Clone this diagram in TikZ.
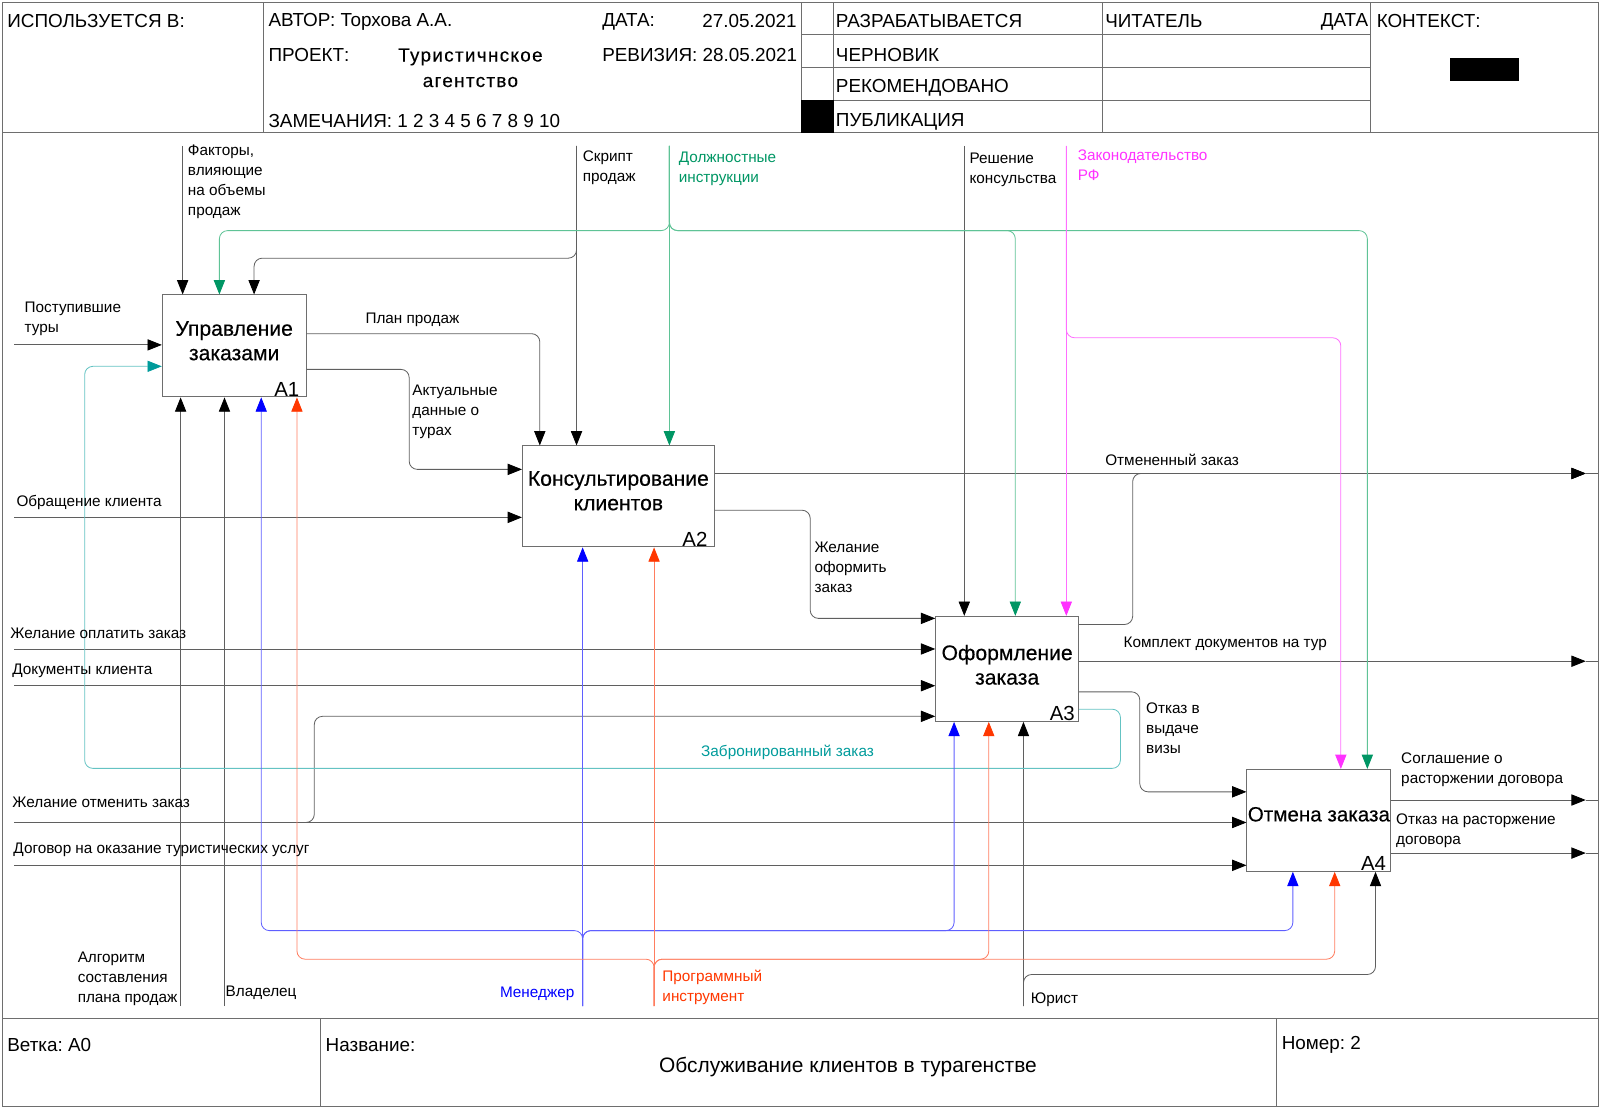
\documentclass[tikz,border=0pt]{standalone}
\usepackage{fontspec}
\setmainfont{Liberation Sans}
\newfontfamily\ttlfont[FakeBold=0.4]{Liberation Sans}
\newfontfamily\prjfont[FakeBold=0.3,LetterSpace=7]{Liberation Sans}
\usetikzlibrary{arrows.meta}
\frenchspacing
\definecolor{frm}{RGB}{110,110,110}
\definecolor{lnk}{RGB}{95,95,95}
\definecolor{grnl}{RGB}{95,195,150}
\definecolor{grnh}{RGB}{0,150,100}
\definecolor{tell}{RGB}{100,195,195}
\definecolor{telh}{RGB}{0,155,155}
\definecolor{blul}{RGB}{95,95,255}
\definecolor{bluh}{RGB}{0,0,255}
\definecolor{redl}{RGB}{255,125,95}
\definecolor{redh}{RGB}{255,55,0}
\definecolor{magl}{RGB}{255,110,255}
\definecolor{magh}{RGB}{255,50,255}
\begin{document}
\begin{tikzpicture}[x=1pt,y=-1pt,
  frame/.style={draw=frm, line width=0.9pt},
  hdr/.style={font=\fontsize{18.5}{21}\selectfont, inner sep=0, anchor=west},
  lbl/.style={font=\fontsize{15}{19.5}\selectfont, inner sep=0, anchor=west, align=left},
  lblm/.style={lbl, anchor=north west},
  box/.style={draw=frm, line width=0.9pt, inner sep=0, fill=white},
  ttl/.style={font=\ttlfont\fontsize{20.7}{24}\selectfont, align=center, inner sep=0},
  num/.style={font=\fontsize{20}{22}\selectfont, inner sep=0, anchor=south east},
  conn/.style 2 args={draw=#1, line width=0.8pt, rounded corners=8pt, -{Triangle[length=14pt,width=11pt,color=#2]}},
  plain/.style={draw=#1, line width=0.8pt, rounded corners=8pt}
]
\useasboundingbox (0,0) rectangle (1568,1086);
% ---------- frame ----------
\draw[frame] (2,2) rectangle (1566,1084);
\draw[frame] (2,130) -- (1566,130);
\draw[frame] (258,2) -- (258,130);
\draw[frame] (785,2) -- (785,130);
\draw[frame] (817,2) -- (817,130);
\draw[frame] (1080,2) -- (1080,130);
\draw[frame] (1343,2) -- (1343,130);
\draw[frame] (785,34) -- (1343,34);
\draw[frame] (785,66) -- (1343,66);
\draw[frame] (785,98) -- (1343,98);
\fill[black] (785,98) rectangle (817,130);
\fill[black] (1421,57) rectangle (1489,79);
\draw[frame] (2,998) -- (1566,998);
\draw[frame] (314,998) -- (314,1084);
\draw[frame] (1251,998) -- (1251,1084);
% ---------- header text ----------
\node[hdr] (h1) at (7,21) {ИСПОЛЬЗУЕТСЯ В:};
\node[hdr] (h2) at (263,21) {АВТОР: Торхова А.А.};
\node[hdr] (h3) at (590,21) {ДАТА:};
\node[hdr, anchor=east] (h4) at (781,21) {27.05.2021};
\node[hdr] (h5) at (263,54) {ПРОЕКТ:};
\node[hdr, anchor=center, align=center, font=\prjfont\fontsize{18.5}{25}\selectfont] (h6) at (461,66.5) {Туристичнское\\агентство};
\node[hdr] (h7) at (590,54) {РЕВИЗИЯ: 28.05.2021};
\node[hdr] (h8) at (263,119) {ЗАМЕЧАНИЯ: 1 2 3 4 5 6 7 8 9 10};
\node[hdr] (h9) at (819,21) {РАЗРАБАТЫВАЕТСЯ};
\node[hdr] (h10) at (819,54) {ЧЕРНОВИК};
\node[hdr] (h11) at (819,86) {РЕКОМЕНДОВАНО};
\node[hdr] (h12) at (819,119) {ПУБЛИКАЦИЯ};
\node[hdr] (h13) at (1083,21) {ЧИТАТЕЛЬ};
\node[hdr, anchor=east] (h14) at (1341,21) {ДАТА};
\node[hdr] (h15) at (1349,21) {КОНТЕКСТ:};
% ---------- footer text ----------
\node[hdr] (f1) at (7,1024) {Ветка: A0};
\node[hdr] (f2) at (319,1024) {Название:};
\node[hdr, anchor=center, font=\fontsize{20.5}{23}\selectfont] (f3) at (831,1046) {Обслуживание клиентов в турагенстве};
\node[hdr] (f4) at (1256,1024) {Номер: 2};
% ---------- boxes ----------
\node[box, minimum width=141, minimum height=100] (A1) at (229.5,339) {};
\node[box, minimum width=188, minimum height=99] (A2) at (606,486.5) {};
\node[box, minimum width=140, minimum height=103] (A3) at (987,655.5) {};
\node[box, minimum width=141, minimum height=100] (A4) at (1292.5,804) {};
\node[ttl] (t1) at (229.5,334) {Управление\\заказами};
\node[ttl] (t2) at (606,481) {Консультирование\\клиентов};
\node[ttl] (t3) at (987,651.5) {Оформление\\заказа};
\node[ttl, font=\ttlfont\fontsize{20.2}{24}\selectfont] (t4) at (1292.5,798) {Отмена заказа};
\node[num] (n1) at ([xshift=-7pt,yshift=1pt]A1.south east) {A1};
\node[num] (n2) at ([xshift=-7pt,yshift=1pt]A2.south east) {A2};
\node[num] (n3) at ([xshift=-4pt,yshift=1pt]A3.south east) {A3};
\node[num] (n4) at ([xshift=-5pt,yshift=1pt]A4.south east) {A4};
% ---------- free ends ----------
\coordinate (cFak) at (179,143);
\coordinate (cSkr) at (565,143);
\coordinate (cDol) at (656,143);
\coordinate (cRes) at (945,143);
\coordinate (cZak) at (1045,143);
\coordinate (cPost) at (14,338);
\coordinate (cObr) at (14,507);
\coordinate (cOpl) at (14,636);
\coordinate (cDok) at (14,672);
\coordinate (cOtm) at (14,806);
\coordinate (cDog) at (14,848);
\coordinate (cAlg) at (177,986);
\coordinate (cVla) at (220,986);
\coordinate (cMen) at (571,986);
\coordinate (cPro) at (641,986);
\coordinate (cYur) at (1003,986);
\coordinate (oOtm) at (1554,464);
\coordinate (oKom) at (1554,648);
\coordinate (oSog) at (1554,784);
\coordinate (oOtk) at (1554,836);
\draw[plain=lnk] (oOtm) -- (1566,464);
\draw[plain=lnk] (oKom) -- (1566,648);
\draw[plain=lnk] (oSog) -- (1566,784);
\draw[plain=lnk] (oOtk) -- (1566,836);
% ---------- black connectors ----------
\draw[conn={lnk}{black}] (cFak) -- (A1.north -| 179,0);
\draw[conn={lnk}{black}] (cSkr) -- (A2.north -| 565,0);
\draw[conn={lnk}{black}] (cSkr) -- (565,253) -- (249,253) -- (A1.north -| 249,0);
\draw[conn={lnk}{black}] (cPost) -- (A1.west |- 0,338);
\draw[conn={lnk}{black}] (A1.east |- 0,327) -- (529,327) -- (A2.north -| 529,0);
\draw[conn={lnk}{black}] (A1.east |- 0,362) -- (401,362) -- (401,460) -- (A2.west |- 0,460);
\draw[conn={lnk}{black}] (cObr) -- (A2.west |- 0,507);
\draw[conn={lnk}{black}] (A2.east |- 0,464) -- (oOtm);
\draw[conn={lnk}{black}] (A3.east |- 0,612) -- (1110,612) -- (1110,464) -- (oOtm);
\draw[conn={lnk}{black}] (A2.east |- 0,500) -- (794,500) -- (794,606) -- (A3.west |- 0,606);
\draw[conn={lnk}{black}] (cRes) -- (A3.north -| 945,0);
\draw[conn={lnk}{black}] (cOpl) -- (A3.west |- 0,636);
\draw[conn={lnk}{black}] (cDok) -- (A3.west |- 0,672);
\draw[conn={lnk}{black}] (cOtm) -- (A4.west |- 0,806);
\draw[conn={lnk}{black}] (cOtm) -- (308,806) -- (308,702) -- (A3.west |- 0,702);
\draw[conn={lnk}{black}] (cDog) -- (A4.west |- 0,848);
\draw[conn={lnk}{black}] (A3.east |- 0,648) -- (oKom);
\draw[conn={lnk}{black}] (A3.east |- 0,678) -- (1117,678) -- (1117,776) -- (A4.west |- 0,776);
\draw[conn={lnk}{black}] (A4.east |- 0,784) -- (oSog);
\draw[conn={lnk}{black}] (A4.east |- 0,836) -- (oOtk);
\draw[conn={lnk}{black}] (cAlg) -- (A1.south -| 177,0);
\draw[conn={lnk}{black}] (cVla) -- (A1.south -| 220,0);
\draw[conn={lnk}{black}] (cYur) -- (A3.south -| 1003,0);
\draw[conn={lnk}{black}] (cYur) -- (1003,955) -- (1348,955) -- (A4.south -| 1348,0);
% ---------- green ----------
\draw[conn={grnl}{grnh}] (cDol) -- (A2.north -| 656,0);
\draw[conn={grnl}{grnh}] (cDol) -- (656,226) -- (215,226) -- (A1.north -| 215,0);
\draw[conn={grnl}{grnh}] (cDol) -- (656,226) -- (995,226) -- (A3.north -| 995,0);
\draw[conn={grnl}{grnh}] (cDol) -- (656,226) -- (1340,226) -- (A4.north -| 1340,0);
% ---------- magenta ----------
\draw[conn={magl}{magh}] (cZak) -- (A3.north -| 1045,0);
\draw[conn={magl}{magh}] (cZak) -- (1045,331) -- (1314,331) -- (A4.north -| 1314,0);
% ---------- teal ----------
\draw[conn={tell}{telh}] (A3.east |- 0,695) -- (1098,695) -- (1098,753) -- (83,753) -- (83,359) -- (A1.west |- 0,359);
% ---------- blue ----------
\draw[conn={blul}{bluh}] (cMen) -- (A2.south -| 571,0);
\draw[conn={blul}{bluh}] (cMen) -- (571,912) -- (256,912) -- (A1.south -| 256,0);
\draw[conn={blul}{bluh}] (cMen) -- (571,912) -- (935,912) -- (A3.south -| 935,0);
\draw[conn={blul}{bluh}] (cMen) -- (571,912) -- (1267,912) -- (A4.south -| 1267,0);
% ---------- red ----------
\draw[conn={redl}{redh}] (cPro) -- (A2.south -| 641,0);
\draw[conn={redl}{redh}] (cPro) -- (641,940) -- (291,940) -- (A1.south -| 291,0);
\draw[conn={redl}{redh}] (cPro) -- (641,940) -- (969,940) -- (A3.south -| 969,0);
\draw[conn={redl}{redh}] (cPro) -- (641,940) -- (1308,940) -- (A4.south -| 1308,0);
% ---------- labels ----------
\node[lblm] (l1) at (184,142) {Факторы,\\влияющие\\на объемы\\продаж};
\node[lblm] (l2) at (24,296) {Поступившие\\туры};
\node[lbl] (l3) at (358,313) {План продаж};
\node[lblm] (l4) at (404,377) {Актуальные\\данные о\\турах};
\node[lblm] (l5) at (571,148) {Скрипт\\продаж};
\node[lblm, text=grnh] (l6) at (665,149) {Должностные\\инструкции};
\node[lblm] (l7) at (950,150) {Решение\\консульства};
\node[lblm, text=magh] (l8) at (1056,147) {Законодательство\\РФ};
\node[lbl] (l9) at (1083,451) {Отмененный заказ};
\node[lbl] (l10) at (16,492) {Обращение клиента};
\node[lblm] (l11) at (798,531) {Желание\\оформить\\заказ};
\node[lbl] (l12) at (10,621) {Желание оплатить заказ};
\node[lbl] (l13) at (12,657) {Документы клиента};
\node[lbl] (l14) at (1101,631) {Комплект документов на тур};
\node[lblm] (l15) at (1123,689) {Отказ в\\выдаче\\визы};
\node[lbl, text=telh] (l16) at (687,737) {Забронированный заказ};
\node[lbl] (l17) at (12,786) {Желание отменить заказ};
\node[lblm] (l18) at (1373,738) {Соглашение о\\расторжении договора};
\node[lblm] (l19) at (1368,797) {Отказ на расторжение\\договора};
\node[lbl] (l20) at (13,833) {Договор на оказание туристических услуг};
\node[lblm] (l21) at (76,933) {Алгоритм\\составления\\плана продаж};
\node[lbl] (l22) at (221,973) {Владелец};
\node[lbl, anchor=east, text=bluh] (l23) at (563,974) {Менеджер};
\node[lblm, text=redh] (l24) at (649,951) {Программный\\инструмент};
\node[lbl] (l25) at (1010,980) {Юрист};
\end{tikzpicture}
\end{document}
